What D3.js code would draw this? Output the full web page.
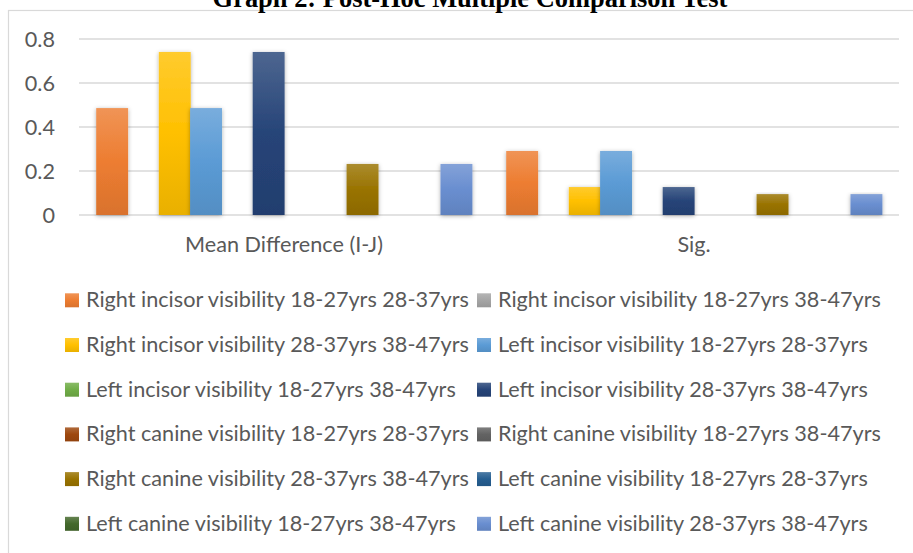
<!DOCTYPE html>
<html>
<head>
<meta charset="utf-8">
<script src="https://cdn.jsdelivr.net/npm/d3@7"></script>
<style>
  html, body { margin: 0; padding: 0; background: #fff; }
  svg { display: block; }
</style>
</head>
<body>
<svg id="chart" width="913" height="553"></svg>
<script>
// ---------- data ----------
const title = "Graph 2: Post-Hoc Multiple Comparison Test";
const categories = ["Mean Difference (I-J)", "Sig."];
const seriesNames = [
  "Right incisor visibility 18-27yrs 28-37yrs",
  "Right incisor visibility 18-27yrs 38-47yrs",
  "Right incisor visibility 28-37yrs 38-47yrs",
  "Left incisor visibility 18-27yrs 28-37yrs",
  "Left incisor visibility 18-27yrs 38-47yrs",
  "Left incisor visibility 28-37yrs 38-47yrs",
  "Right canine visibility 18-27yrs 28-37yrs",
  "Right canine visibility 18-27yrs 38-47yrs",
  "Right canine visibility 28-37yrs 38-47yrs",
  "Left canine visibility 18-27yrs 28-37yrs",
  "Left canine visibility 18-27yrs 38-47yrs",
  "Left canine visibility 28-37yrs 38-47yrs"
];
const meanDifference = [0.486, 0, 0.741, 0.486, 0, 0.741, 0, 0, 0.232, 0, 0, 0.232];
const sigValues      = [0.291, 0, 0.127, 0.291, 0, 0.127, 0, 0, 0.095, 0, 0, 0.095];
const yTickValues = [0, 0.2, 0.4, 0.6, 0.8];
const yTickLabels = ["0", "0.2", "0.4", "0.6", "0.8"];
const seriesColors = ["#ED7D31", "#A5A5A5", "#FFC000", "#5B9BD5", "#70AD47", "#264478",
                      "#9E480E", "#636363", "#997300", "#255E91", "#43682B", "#698ED0"];

const valuesByCategory = [meanDifference, sigValues];

// ---------- layout ----------
const svg = d3.select("#chart");
const W = 913, H = 553;
const plot = { left: 79, right: 899, top: 39, bottom: 215 };
const textColor = "#595959";
const baseFont = "Lato, 'Open Sans', sans-serif";

// fit font size to the reference legend width
const probe = svg.append("text").attr("font-family", baseFont).attr("font-size", 20)
  .text("Right incisor visibility 18-27yrs 38-47yrs");
const probeW = probe.node().getComputedTextLength();
probe.remove();
const fs = 20 * 383 / probeW;

// chart frame
svg.append("rect")
  .attr("x", 8.5).attr("y", 10.5)
  .attr("width", 1000).attr("height", 1000)
  .attr("fill", "none").attr("stroke", "#D9D9D9").attr("stroke-width", 1.2);

// title
const tprobe = svg.append("text").attr("font-family", "'Liberation Serif', 'Times New Roman', serif")
  .attr("font-weight", "bold").attr("font-size", 26).text(title);
const tW = tprobe.node().getComputedTextLength();
tprobe.remove();
svg.append("text")
  .attr("x", 470).attr("y", 7)
  .attr("text-anchor", "middle")
  .attr("font-family", "'Liberation Serif', 'Times New Roman', serif")
  .attr("font-weight", "bold")
  .attr("font-size", 26 * 515 / tW)
  .attr("fill", "#000")
  .text(title);

// defs: gradients and shadow
const defs = svg.append("defs");
seriesColors.forEach((c, i) => {
  const g = defs.append("linearGradient").attr("id", "grad" + i)
    .attr("x1", 0).attr("y1", 0).attr("x2", 0).attr("y2", 1);
  const top = d3.interpolateRgb(c, "#ffffff")(0.18);
  const bot = d3.rgb(c).darker(0.25).formatHex();
  g.append("stop").attr("offset", "0%").attr("stop-color", top);
  g.append("stop").attr("offset", "50%").attr("stop-color", c);
  g.append("stop").attr("offset", "100%").attr("stop-color", bot);
});
const f = defs.append("filter").attr("id", "shadow")
  .attr("x", "-30%").attr("y", "-10%").attr("width", "160%").attr("height", "125%");
f.append("feDropShadow").attr("dx", 0).attr("dy", 1).attr("stdDeviation", 2.2)
  .attr("flood-color", "#000").attr("flood-opacity", 0.32);

// scales
const x0 = d3.scaleBand().domain(categories).range([plot.left, plot.right]).padding(0);
const x1 = d3.scaleBand().domain(seriesNames).range([0, x0.bandwidth()])
  .paddingInner(0).paddingOuter(0.55);
const y = d3.scaleLinear().domain([0, 0.8]).range([plot.bottom, plot.top]);

// gridlines
svg.append("g").selectAll("line").data(yTickValues).join("line")
  .attr("x1", plot.left).attr("x2", plot.right)
  .attr("y1", d => y(d)).attr("y2", d => y(d))
  .attr("stroke", "#D9D9D9").attr("stroke-width", 1.4);

// y axis labels
const yAxis = d3.axisLeft(y).tickValues(yTickValues)
  .tickFormat((d, i) => yTickLabels[i]).tickSize(0).tickPadding(0);
const yg = svg.append("g").attr("transform", `translate(55,0)`).call(yAxis);
yg.select(".domain").remove();
yg.selectAll("text").attr("font-family", baseFont).attr("font-size", fs)
  .attr("fill", textColor).attr("dy", "0.35em");

// bars
const data = [];
categories.forEach((cat, ci) => {
  seriesNames.forEach((s, si) => {
    data.push({ cat, series: s, si, value: valuesByCategory[ci][si] });
  });
});
svg.append("g").selectAll("rect").data(data.filter(d => d.value > 0)).join("rect")
  .attr("x", d => x0(d.cat) + x1(d.series))
  .attr("width", x1.bandwidth() + 0.6)
  .attr("y", d => y(d.value))
  .attr("height", d => y(0) - y(d.value))
  .attr("fill", d => `url(#grad${d.si})`)
  .attr("filter", "url(#shadow)");

// category axis labels
const xAxis = d3.axisBottom(x0).tickSize(0).tickPadding(0);
const xg = svg.append("g").attr("transform", `translate(0,252)`).call(xAxis);
xg.select(".domain").remove();
xg.selectAll("text").attr("font-family", baseFont).attr("font-size", fs)
  .attr("fill", textColor).attr("dy", 0);

// legend
const legendRows = 6;
const legendX = [65, 477];
const legendY0 = 307.3, legendStep = 44.7;
const lg = svg.append("g").selectAll("g").data(seriesNames).join("g")
  .attr("transform", (d, i) => `translate(${legendX[i % 2]},${legendY0 + Math.floor(i / 2) * legendStep})`);
lg.append("rect")
  .attr("x", 0).attr("y", -14).attr("width", 14).attr("height", 14)
  .attr("fill", (d, i) => `url(#grad${i})`);
lg.append("text")
  .attr("x", 21).attr("y", 0)
  .attr("font-family", baseFont).attr("font-size", fs)
  .attr("fill", textColor)
  .text(d => d);
</script>
</body>
</html>
